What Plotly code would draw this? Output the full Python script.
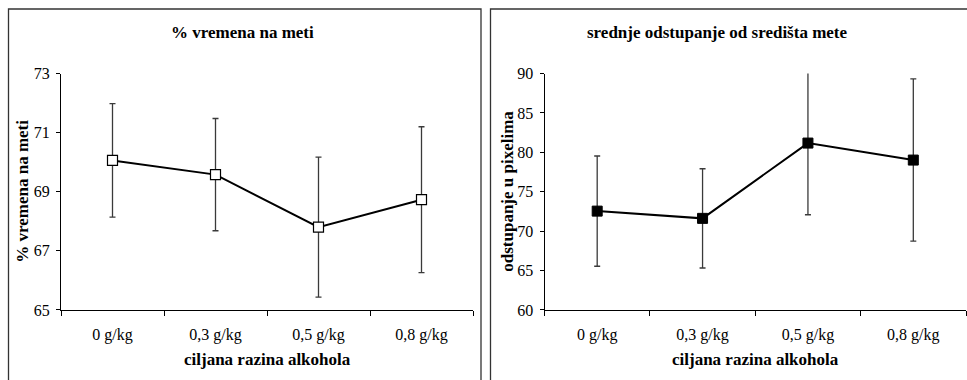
import plotly.graph_objects as go

categories = ["0 g/kg", "0,3 g/kg", "0,5 g/kg", "0,8 g/kg"]

# left panel: % vremena na meti
left_mean = [70.06, 69.58, 67.80, 68.73]
left_err = [1.92, 1.90, 2.37, 2.47]
left_ticks = [65, 67, 69, 71, 73]

# right panel: srednje odstupanje od središta mete
right_mean = [72.54, 71.62, 81.18, 79.02]
right_err = [7.0, 6.3, 9.1, 10.3]
right_ticks = [60, 65, 70, 75, 80, 85, 90]

W, H = 967, 380
FONT = "Liberation Serif, Times New Roman, serif"
ERRC = "#3a3a3a"

fig = go.Figure()

fig.add_trace(go.Scatter(
    x=categories, y=left_mean, xaxis="x", yaxis="y", mode="lines+markers",
    line=dict(color="black", width=2),
    marker=dict(symbol="square", size=10, color="white", line=dict(color="black", width=1.2)),
    error_y=dict(type="data", array=left_err, visible=True, color=ERRC, thickness=1.3, width=3),
    showlegend=False, cliponaxis=False,
))
fig.add_trace(go.Scatter(
    x=categories, y=right_mean, xaxis="x2", yaxis="y2", mode="lines+markers",
    line=dict(color="black", width=2),
    marker=dict(symbol="square", size=10, color="black", line=dict(color="black", width=1)),
    error_y=dict(type="data", array=right_err, visible=True, color=ERRC, thickness=1.3, width=3),
    showlegend=False, cliponaxis=False,
))

def px(x):
    return x / W

def py(y):
    # screen-calibrated vertical position (pixels from top) -> paper fraction
    yy = (y - 8.5) / 0.954
    return (H - yy) / H

axis_common = dict(showgrid=False, zeroline=False, showline=True, linecolor="black", linewidth=1,
                   ticks="outside", tickcolor="black", tickfont=dict(family=FONT, size=16, color="black"))

fig.update_layout(
    width=W, height=H, margin=dict(l=0, r=0, t=0, b=0),
    paper_bgcolor="white", plot_bgcolor="white",
    font=dict(family=FONT),
    xaxis=dict(domain=[px(61), px(473)], anchor="y", type="category", tickson="boundaries",
               range=[-0.5, 3.5], ticklen=5, ticklabelstandoff=10, **axis_common),
    yaxis=dict(domain=[py(310), py(74)], anchor="x", range=[65, 73], tickvals=left_ticks,
               ticklen=4, ticklabelstandoff=3, **axis_common),
    xaxis2=dict(domain=[px(544.5), px(966)], anchor="y2", type="category", tickson="boundaries",
                range=[-0.5, 3.5], ticklen=5, ticklabelstandoff=10, **axis_common),
    yaxis2=dict(domain=[py(310), py(74)], anchor="x2", range=[60, 90], tickvals=right_ticks,
                ticklen=4, ticklabelstandoff=3, **axis_common),
)

# frames
fig.add_shape(type="rect", xref="paper", yref="paper", x0=px(8.5), x1=px(481), y0=-0.1, y1=py(9.5),
              line=dict(color="#333", width=1.3), layer="below")
fig.add_shape(type="rect", xref="paper", yref="paper", x0=px(490.5), x1=1.1, y0=-0.1, y1=py(9.5),
              line=dict(color="#333", width=1.3), layer="below")

bold = dict(family=FONT, size=17, color="black")
ann = [
    dict(text="<b>% vremena na meti</b>", x=px(242), y=py(33)),
    dict(text="<b>srednje odstupanje od središta mete</b>", x=px(717), y=py(33)),
    dict(text="<b>ciljana razina alkohola</b>", x=px(267), y=py(360)),
    dict(text="<b>ciljana razina alkohola</b>", x=px(755), y=py(360)),
    dict(text="<b>% vremena na meti</b>", x=px(23), y=py(192), textangle=-90),
    dict(text="<b>odstupanje u pixelima</b>", x=px(508), y=py(192), textangle=-90),
]
for a in ann:
    fig.add_annotation(xref="paper", yref="paper", showarrow=False, xanchor="center", yanchor="middle",
                       font=bold, **a)

fig.write_html(
    "out.html",
    config={"displayModeBar": False},
    post_script=(
        "document.documentElement.style.margin='0';document.documentElement.style.overflow='hidden';"
        "document.body.style.margin='0';document.body.style.overflow='hidden';"
    ),
)
